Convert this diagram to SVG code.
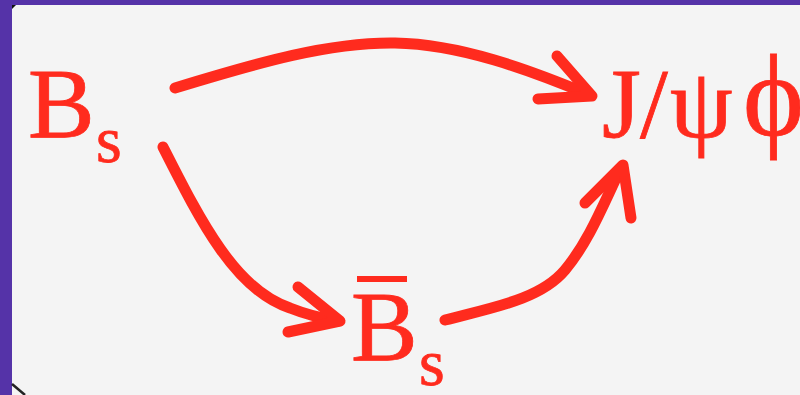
<svg xmlns="http://www.w3.org/2000/svg" width="800" height="395" viewBox="0 0 800 395">
<style>
.t{font-family:"Liberation Serif","Times New Roman",serif;fill:#ff2b1e;stroke:#ff2b1e;stroke-width:0.8}
.c{fill:none;stroke:#ff2b1e;stroke-width:11;stroke-linecap:round;stroke-linejoin:round}
</style>
<rect x="0" y="0" width="800" height="395" fill="#5533a8"/>
<rect x="12" y="5" width="788" height="390" fill="#f4f4f4"/>
<path d="M12 5 L16 5 L12 9 Z" fill="#111"/>
<path d="M12 384 L25 395" stroke="#222" stroke-width="2.5" fill="none"/>
<g id="connectors">
<path class="c" d="M175 88 C260 62 330 42 395 43 C460 44 530 70 590 95"/>
<path class="c" d="M557 56 L592 96 L538 99"/>
<path class="c" d="M163 147 C200 220 235 290 290 308 C305 314 320 318 338 321"/>
<path class="c" d="M298 287 L340 321 L288 332"/>
<path class="c" d="M445 320 C490 308 540 300 565 270 C590 240 605 200 620 170"/>
<path class="c" d="M585 203 L623 165 L631 218"/>
</g>
<g id="Bs"><text class="t" x="28" y="137" font-size="100">B</text><text class="t" x="96" y="162" font-size="66">s</text></g>
<g id="JpsiPhi"><text class="t" y="137" font-size="100"><tspan x="602">J</tspan><tspan x="640">/</tspan><tspan x="670">ψ</tspan><tspan x="743" font-size="116" dy="-2">ϕ</tspan></text></g>
<g id="Bsbar"><rect x="357" y="276" width="50" height="6" fill="#ff2b1e"/><text class="t" x="351" y="360" font-size="100">B</text><text class="t" x="419" y="385" font-size="66">s</text></g>
</svg>
